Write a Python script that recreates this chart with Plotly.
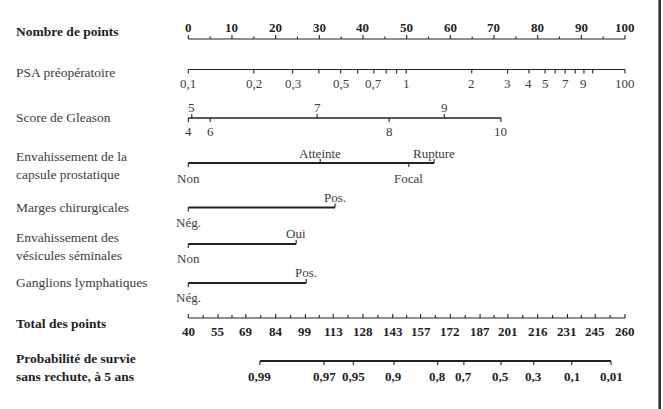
import plotly.graph_objects as go

# ---------------- data (positions in "points" units, 0-100) ----------------
points_major = list(range(0, 101, 10))
points_minor = list(range(5, 100, 10))

psa_labels = ["0,1", "0,2", "0,3", "0,5", "0,7", "1", "2", "3", "4", "5", "7", "9", "100"]
psa_label_pts = [0, 15.0, 23.9, 34.9, 42.5, 49.9, 64.9, 73.1, 78.0, 81.7, 86.3, 90.6, 100]
psa_minor_pts = [29.9, 38.8, 45.3, 47.7, 84.0, 88.6, 92.6]

gleason_labels = ["4", "5", "6", "7", "8", "9", "10"]
gleason_pts = [0, 0.8, 5.0, 29.5, 46.0, 58.6, 71.6]
gleason_above = [False, True, False, True, False, True, False]

capsule_labels = ["Non", "Atteinte", "Focal", "Rupture"]
capsule_pts = [0, 30.2, 50.5, 56.3]
capsule_above = [False, True, False, True]

marges_labels = ["Nég.", "Pos."]
marges_pts = [0, 33.6]

vesicules_labels = ["Non", "Oui"]
vesicules_pts = [0, 24.7]

ganglions_labels = ["Nég.", "Pos."]
ganglions_pts = [0, 27.0]

total_labels = [40, 55, 69, 84, 99, 113, 128, 143, 157, 172, 187, 201, 216, 231, 245, 260]
total_min, total_max = 40, 260

prob_labels = ["0,99", "0,97", "0,95", "0,9", "0,8", "0,7", "0,5", "0,3", "0,1", "0,01"]
prob_pts = [16.4, 31.1, 37.8, 47.1, 57.1, 63.1, 71.6, 79.1, 87.8, 96.8]

row_titles = [
    ("Nombre de points", 31, True),
    ("PSA préopératoire", 72.5, False),
    ("Score de Gleason", 117, False),
    ("Envahissement de la", 156.5, False),
    ("capsule prostatique", 174.5, False),
    ("Marges chirurgicales", 207, False),
    ("Envahissement des", 237.5, False),
    ("vésicules séminales", 255.5, False),
    ("Ganglions lymphatiques", 282, False),
    ("Total des points", 323, True),
    ("Probabilité de survie", 358.5, True),
    ("sans rechute, à 5 ans", 376.5, True),
]

# ---------------- layout constants ----------------
W, H = 663, 409
X0_PX, X100_PX = 188.3, 625.0
scale = (X100_PX - X0_PX) / 100.0
x_lo = -X0_PX / scale
x_hi = (W - X0_PX) / scale

FONT = "Liberation Serif"
TXT = "#3c3c3c"
TXT_B = "#1e1e1e"
LINE = "#222222"

fig = go.Figure()
annots = []


def hline(x0, x1, y, width):
    fig.add_trace(go.Scatter(x=[x0, x1], y=[y, y], mode="lines",
                             line=dict(color=LINE, width=width),
                             hoverinfo="skip", showlegend=False))


def ticks(xs, y, length, up, width=1.1):
    xx, yy = [], []
    for x in xs:
        xx += [x, x, None]
        yy += [y, y - length if up else y + length, None]
    fig.add_trace(go.Scatter(x=xx, y=yy, mode="lines",
                             line=dict(color=LINE, width=width),
                             hoverinfo="skip", showlegend=False))


def label(x, y, text, bold=False, size=13):
    annots.append(dict(x=x, y=y, xref="x", yref="y", text=f"<b>{text}</b>" if bold else text,
                       showarrow=False, xanchor="center", yanchor="middle",
                       font=dict(family=FONT, size=size, color=TXT_B if bold else TXT)))


# Row 1: points
y = 39
hline(0, 100, y, 1.1)
ticks(points_major, y, 4, True)
ticks(points_minor, y, 2.5, True)
for v in points_major:
    label(v, 27.5, str(v), bold=True)

# Row 2: PSA
y = 69.5
hline(0, 100, y, 1.2)
ticks(psa_label_pts + psa_minor_pts, y, 4, False)
for t, p in zip(psa_labels, psa_label_pts):
    label(p, 83, t)

# Row 3: Gleason
y = 118
hline(0, max(gleason_pts), y, 1.3)
ticks([p for p, a in zip(gleason_pts, gleason_above) if a], y, 4, True)
ticks([p for p, a in zip(gleason_pts, gleason_above) if not a], y, 4, False)
for t, p, a in zip(gleason_labels, gleason_pts, gleason_above):
    label(p, 107 if a else 131.5, t)

# Row 4: capsule
y = 163
hline(0, max(capsule_pts), y, 1.8)
ticks([p for p, a in zip(capsule_pts, capsule_above) if a], y, 4, True)
ticks([p for p, a in zip(capsule_pts, capsule_above) if not a], y, 4, False)
for t, p, a in zip(capsule_labels, capsule_pts, capsule_above):
    label(p, 153 if a else 178, t)

# Binary rows
for labs, pts, yl, ya, yb in [
    (marges_labels, marges_pts, 207.5, 197, 222),
    (vesicules_labels, vesicules_pts, 244, 233, 258),
    (ganglions_labels, ganglions_pts, 283, 272.5, 297.5),
]:
    hline(pts[0], pts[1], yl, 1.8)
    ticks([pts[0]], yl, 4, False)
    ticks([pts[1]], yl, 4, True)
    label(pts[0], yb, labs[0])
    label(pts[1], ya, labs[1])

# Row 8: total points
y = 318
tpos = [(v - total_min) / (total_max - total_min) * 100 for v in total_labels]
hline(0, 100, y, 1.2)
ticks(tpos, y, 4, True)
ticks([(a + b) / 2 for a, b in zip(tpos[:-1], tpos[1:])], y, 3, True)
for v, p in zip(total_labels, tpos):
    label(p, 331.5, str(v), bold=True)

# Row 9: probability
y = 361
hline(prob_pts[0], prob_pts[-1], y, 1.8)
ticks(prob_pts, y, 4, False)
for t, p in zip(prob_labels, prob_pts):
    label(p, 376, t, bold=True)

# Row titles
for text, yy, bold in row_titles:
    annots.append(dict(x=14 / W, y=yy, xref="paper", yref="y",
                       text=f"<b>{text}</b>" if bold else text,
                       showarrow=False, xanchor="left", yanchor="middle",
                       font=dict(family=FONT, size=13.5, color=TXT_B if bold else TXT)))

fig.update_layout(
    width=W, height=H,
    margin=dict(l=0, r=0, t=0, b=0),
    paper_bgcolor="white", plot_bgcolor="white",
    font=dict(family=FONT),
    xaxis=dict(range=[x_lo, x_hi], visible=False, fixedrange=True),
    yaxis=dict(range=[H, 0], visible=False, fixedrange=True),
    annotations=annots,
    shapes=[dict(type="line", xref="paper", yref="paper", x0=659.7 / W, x1=659.7 / W,
                 y0=0, y1=1, line=dict(color="#2a2a2a", width=2.5))],
)

fig.write_html("out.html")
